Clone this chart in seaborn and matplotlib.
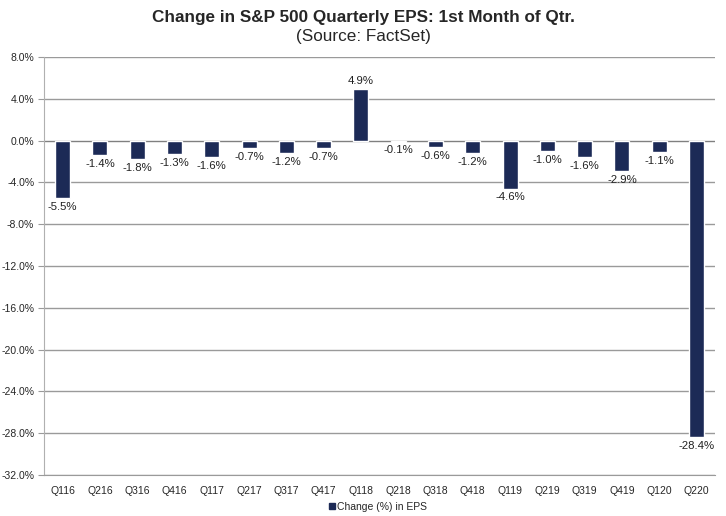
import numpy as np
import pandas as pd
import seaborn as sns
import matplotlib
import matplotlib.pyplot as plt
from matplotlib.lines import Line2D
matplotlib.use('Agg')

quarters = ['Q116', 'Q216', 'Q316', 'Q416', 'Q117', 'Q217', 'Q317', 'Q417', 'Q118',
            'Q218', 'Q318', 'Q418', 'Q119', 'Q219', 'Q319', 'Q419', 'Q120', 'Q220']
eps_change = [-5.5, -1.4, -1.8, -1.3, -1.6, -0.7, -1.2, -0.7, 4.9,
              -0.1, -0.6, -1.2, -4.6, -1.0, -1.6, -2.9, -1.1, -28.4]
yticks = np.arange(-32, 9, 4)

bar_color = '#1c2a56'


def main():
    sns.set_style('white')
    plt.rcParams['font.family'] = ['Liberation Sans', 'DejaVu Sans']
    df = pd.DataFrame({'quarter': quarters, 'change': eps_change})

    fig = plt.figure(figsize=(7.26, 5.16), dpi=100)
    ax = fig.add_axes([0.0606, 0.0795, 0.9244, 0.81])
    ax.set_axisbelow(True)
    for t in yticks:
        ax.axhline(t, color='#9a9a9a' if t != 0 else '#808080', lw=1, zorder=0)

    sns.barplot(data=df, x='quarter', y='change', color=bar_color, width=0.4,
                saturation=1, ax=ax, zorder=2)

    for i, v in enumerate(eps_change):
        if v >= 0:
            ax.text(i, v + 0.3, f'{v:.1f}%', ha='center', va='bottom', fontsize=8.2, color='#222222')
        else:
            ax.text(i, v - 0.35, f'{v:.1f}%', ha='center', va='top', fontsize=8.2, color='#222222')

    ax.set_ylim(-32, 8)
    ax.set_xlim(-0.5, len(quarters) - 0.5)
    ax.set_yticks(yticks)
    ax.set_yticklabels([f'{t:.1f}%' for t in yticks], fontsize=7.5)
    ax.tick_params(axis='x', labelsize=7.5, pad=8, length=0)
    ax.tick_params(axis='y', length=4, color='#9a9a9a', left=True, pad=3)
    ax.set_xlabel('')
    ax.set_ylabel('')
    for side in ['top', 'right']:
        ax.spines[side].set_visible(False)
    ax.spines['left'].set_color('#b0b0b0')
    ax.spines['bottom'].set_color('#9a9a9a')

    fig.text(0.5, 0.966, 'Change in S&P 500 Quarterly EPS: 1st Month of Qtr.',
             ha='center', va='center', fontsize=12.3, fontweight='bold')
    fig.text(0.5, 0.93, '(Source: FactSet)', ha='center', va='center', fontsize=12.3)

    handle = Line2D([], [], marker='s', color='none', markerfacecolor=bar_color,
                    markeredgecolor=bar_color, markersize=5)
    fig.legend([handle], ['Change (%) in EPS'], loc='center', bbox_to_anchor=(0.52, 0.018),
               frameon=False, fontsize=7.5, handletextpad=0.1, handlelength=0.8)

    fig.savefig('out.png', dpi=100)


if __name__ == '__main__':
    main()
